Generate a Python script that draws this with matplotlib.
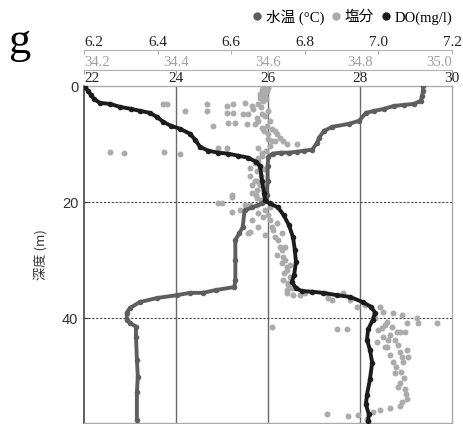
import numpy as np
import matplotlib.pyplot as plt
from matplotlib.lines import Line2D

# water temperature profile (depth m, deg C)
temp_depth = [0.0, 0.86, 1.71, 2.57, 3.08, 3.25, 3.42, 3.94, 4.28, 4.62, 5.99, 6.51, 7.02,
              7.71, 8.90, 9.76, 10.96, 11.13, 11.30, 11.47, 11.47, 11.64, 12.16, 13.7, 16.27,
              18.84, 19.86, 20.2, 20.9, 21.4, 24.3, 25.3, 26.5, 30.0, 33.4, 34.6, 35.1, 35.6,
              35.6, 36.0, 36.5, 37.2, 38.2, 39.0, 40.2, 40.8, 41.4, 43.2, 47.1, 50.0, 52.7, 57.4]
temp_val = [29.37, 29.37, 29.35, 29.32, 29.17, 28.96, 28.74, 28.52, 28.31, 28.13, 27.98, 27.76,
            27.40, 27.22, 27.11, 27.07, 26.96, 26.79, 26.64, 26.46, 26.29, 26.10, 26.01, 25.99,
            25.99, 25.97, 25.94, 25.88, 25.66, 25.49, 25.45, 25.38, 25.29, 25.29, 25.29, 25.27,
            24.88, 24.58, 24.30, 24.02, 23.58, 23.21, 23.00, 22.93, 22.93, 23.00, 23.13, 23.13,
            23.15, 23.17, 23.15, 23.15]

# dissolved oxygen profile (depth m, mg/l)
do_depth = [0.17, 0.86, 1.54, 2.23, 2.91, 3.08, 3.60, 3.94, 4.28, 4.62, 5.31, 6.16, 6.85, 7.36,
            8.22, 9.25, 10.45, 11.13, 11.47, 11.64, 11.99, 12.33, 13.01, 13.70, 16.27, 18.49,
            19.69, 20.21, 20.89, 22.26, 23.97, 26.03, 28.25, 30.3, 32.5, 33.7, 34.8, 35.3, 35.4,
            35.6, 36.0, 36.3, 37.2, 38.0, 39.0, 40.2, 41.9, 43.7, 45.4, 47.6, 50.5, 53.1, 54.8,
            56.5, 57.7]
do_val = [6.203, 6.211, 6.219, 6.227, 6.243, 6.271, 6.298, 6.328, 6.352, 6.379, 6.398, 6.415,
          6.436, 6.461, 6.488, 6.502, 6.515, 6.537, 6.564, 6.591, 6.618, 6.646, 6.667, 6.678,
          6.684, 6.689, 6.692, 6.705, 6.727, 6.743, 6.757, 6.768, 6.773, 6.776, 6.771, 6.765,
          6.776, 6.792, 6.820, 6.849, 6.888, 6.923, 6.958, 6.980, 6.991, 6.985, 6.972, 6.969,
          6.977, 6.983, 6.977, 6.969, 6.966, 6.974, 6.972]

# salinity samples (depth m, psu)
sal_depth = [0.0, 0.34, 0.68, 0.86, 1.37, 1.71, 2.05, 2.57, 3.08, 3.42, 2.91, 3.08, 3.42, 3.08,
             4.28, 3.08, 3.08, 4.28, 3.94, 4.28, 4.62, 4.62, 4.79, 4.79, 4.79, 5.48, 5.99, 6.85,
             6.34, 6.34, 6.51, 6.51, 7.19, 6.85, 7.36, 7.71, 8.22, 8.90, 9.42, 9.93, 9.93, 9.42,
             9.08, 10.27, 10.62, 10.62, 10.62, 11.30, 11.47, 11.30, 11.64, 11.47, 12.33, 13.18,
             13.70, 14.04, 14.55, 15.41, 16.27, 17.12, 17.98, 18.49, 18.84, 19.35, 19.18, 20.21,
             20.21, 20.55, 20.55, 20.89, 21.75, 21.40, 22.60, 23.12, 23.12, 24.32, 24.32, 25.17,
             25.34, 23.63, 26.03, 25.34, 27.74, 27.74, 29.45, 30.48, 31.16, 31.68, 32.88, 33.39,
             34.25, 35.10, 35.96, 35.62, 35.96, 35.62, 35.62, 36.47, 36.82, 35.62, 36.82, 38.01,
             37.67, 38.01, 38.87, 39.04, 39.38, 40.75, 39.90, 40.75, 40.75, 40.58, 41.61, 42.29,
             42.29, 41.44, 41.78, 41.78, 44.01, 44.86, 43.15, 42.81, 42.29, 44.86, 46.23, 45.72,
             45.38, 47.43, 47.43, 46.58, 49.32, 51.03, 52.23, 53.94, 55.14, 55.48, 55.82, 56.16,
             56.68, 56.85, 56.51, 57.36, 57.7,
             1.20, 2.23, 3.60, 5.14, 5.99, 7.71, 8.22, 9.42, 11.13, 11.99, 12.84, 14.21, 15.41,
             16.27, 17.12, 18.84, 19.69, 20.55, 21.40, 21.92, 22.26, 24.83, 25.68, 26.54, 28.25,
             29.11, 29.97, 30.82, 32.19, 33.90, 34.76, 39.90, 41.10, 41.95, 41.44, 43.66, 43.66,
             44.52, 46.58, 48.29, 49.14, 50.17, 51.88, 53.08, 54.45]
sal_val = [34.589, 34.600, 34.587, 34.598, 34.583, 34.593, 34.583, 34.589, 34.578, 34.565,
           34.550, 34.524, 34.511, 34.467, 34.467, 34.372, 34.380, 34.420, 34.567, 34.600,
           34.511, 34.524, 34.546, 34.557, 34.587, 34.576, 34.578, 34.480, 34.513, 34.528,
           34.554, 34.572, 34.587, 34.598, 34.609, 34.615, 34.620, 34.626, 34.633, 34.641,
           34.663, 34.615, 34.600, 34.604, 34.578, 34.491, 34.511, 34.257, 34.287, 34.374,
           34.409, 34.587, 34.578, 34.572, 34.583, 34.561, 34.576, 34.561, 34.576, 34.565,
           34.576, 34.565, 34.522, 34.576, 34.522, 34.491, 34.500, 34.550, 34.576, 34.604,
           34.522, 34.539, 34.589, 34.604, 34.565, 34.609, 34.578, 34.561, 34.557, 34.620,
           34.615, 34.630, 34.626, 34.637, 34.633, 34.630, 34.641, 34.641, 34.648, 34.633,
           34.643, 34.641, 34.654, 34.641, 34.670, 34.680, 34.724, 34.730, 34.739, 34.763,
           34.778, 34.793, 34.811, 34.843, 34.850, 34.872, 34.891, 34.902, 34.924, 34.926,
           34.967, 34.859, 34.848, 34.880, 34.898, 34.609, 34.750, 34.772, 34.837, 34.859,
           34.850, 34.865, 34.887, 34.854, 34.865, 34.887, 34.902, 34.872, 34.893, 34.904,
           34.876, 34.887, 34.898, 34.902, 34.887, 34.865, 34.843, 34.828, 34.796, 34.774,
           34.728, 34.815, 34.817,
           34.587, 34.596, 34.585, 34.593, 34.604, 34.591, 34.600, 34.609, 34.596, 34.587,
           34.578, 34.591, 34.585, 34.572, 34.583, 34.574, 34.585, 34.561, 34.593, 34.578,
           34.600, 34.611, 34.593, 34.622, 34.630, 34.620, 34.637, 34.648, 34.635, 34.643,
           34.652, 34.833, 34.854, 34.839, 34.870, 34.876, 34.861, 34.883, 34.891, 34.878,
           34.889, 34.896, 34.883, 34.900, 34.891]

temp_ticks = [22, 24, 26, 28, 30]
sal_ticks = [34.2, 34.4, 34.6, 34.8, 35.0]
do_ticks = [6.2, 6.4, 6.6, 6.8, 7.0, 7.2]
depth_ticks = [0, 20, 40]

c_temp = '#5e5e5e'
c_sal = '#ababab'
c_do = '#1c1c1c'
serif = ['Liberation Serif', 'Noto Sans CJK JP']

fig = plt.figure(figsize=(4.63, 4.24), dpi=100)
ax = fig.add_axes([84/463, 1/424, 368/463, 337/424])

ax.set_xlim(22, 30)
ax.set_ylim(58, 0)
for v in [24, 26, 28]:
    ax.axvline(v, color='#6a6a6a', lw=1.0, zorder=0)
for d in [20, 40]:
    ax.axhline(d, color='#444444', lw=0.8, ls=(0, (2, 1.5)), zorder=0)

ax.set_yticks(depth_ticks)
ax.set_yticklabels([str(t) for t in depth_ticks], family='Liberation Sans', fontsize=10.5)
ax.tick_params(axis='y', direction='in', length=3, pad=4, colors='#333333')
ax.set_ylabel('深度 (m)', family=['Noto Sans CJK JP', 'DejaVu Sans'], fontsize=9.5, color='#333333')
ax.yaxis.set_label_coords(-0.10, 0.5)
ax.spines['left'].set_color('#444444')
ax.spines['left'].set_linewidth(1.2)
for s in ['right', 'bottom', 'top']:
    ax.spines[s].set_color('#aaaaaa')
    ax.spines[s].set_linewidth(1.0)

# salinity axis (middle row)
ax_sal = ax.twiny()
ax_sal.set_xlim(34.2, 35.0)
ax_sal.spines['top'].set_position(('axes', 1 + 16/337))
for s in ['left', 'right', 'bottom']:
    ax_sal.spines[s].set_visible(False)
ax_sal.spines['top'].set_color('#b0b0b0')
ax_sal.set_xticks(sal_ticks)
ax_sal.set_xticklabels(['%.1f' % t for t in sal_ticks], family=serif, fontsize=10.5)
ax_sal.tick_params(axis='x', direction='in', length=3, pad=1, colors='#a0a0a0')
ax_sal.plot(sal_val, sal_depth, 'o', ms=4.3, color=c_sal, mec='none')

# temperature data on its own twin so it sits above salinity
ax_t = ax.twiny()
ax_t.set_xlim(22, 30)
ax_t.axis('off')
ax_t.plot(temp_val, temp_depth, '-o', lw=2.8, ms=4.0, color=c_temp, mec='none')

# dissolved oxygen axis (top row)
ax_do = ax.twiny()
ax_do.set_xlim(6.2, 7.2)
ax_do.spines['top'].set_position(('axes', 1 + 36/337))
for s in ['left', 'right', 'bottom']:
    ax_do.spines[s].set_visible(False)
ax_do.spines['top'].set_color('#b0b0b0')
ax_do.set_xticks(do_ticks)
ax_do.set_xticklabels(['%.1f' % t for t in do_ticks], family=serif, fontsize=11)
ax_do.tick_params(axis='x', direction='in', length=3, pad=1, colors='#222222')
ax_do.tick_params(axis='x', color='#b0b0b0')
ax_do.plot(do_val, do_depth, '-o', lw=2.8, ms=4.0, color=c_do, mec='none')
ax_do.set_ylim(58, 0)

# twiny moved the temperature ticks to the bottom, put them back on top
ax.xaxis.tick_top()
ax.set_xticks(temp_ticks)
ax.set_xticklabels([str(t) for t in temp_ticks], family=serif, fontsize=11)
ax.tick_params(axis='x', length=0, pad=1, colors='#222222')

# end labels sit inside the frame like in the original
for a in [ax, ax_sal, ax_do]:
    a.get_xticklabels()[0].set_horizontalalignment('left')
ax_sal.get_xticklabels()[-1].set_horizontalalignment('right')

handles = [Line2D([], [], ls='none', marker='o', ms=6, color=c_temp, mec='none'),
           Line2D([], [], ls='none', marker='o', ms=6, color=c_sal, mec='none'),
           Line2D([], [], ls='none', marker='o', ms=6, color=c_do, mec='none')]
fig.legend(handles, ['水温 (°C)', '塩分', 'DO(mg/l)'], loc='upper right',
           bbox_to_anchor=(1.005, 1.01), ncol=3, frameon=False, handlelength=0.6,
           handletextpad=0.3, columnspacing=0.5, prop={'family': serif, 'size': 10.5})

fig.text(8/463, 1 - 53/424, 'g', family='Liberation Serif', fontsize=32, va='baseline')

plt.savefig('out.png', dpi=100)
